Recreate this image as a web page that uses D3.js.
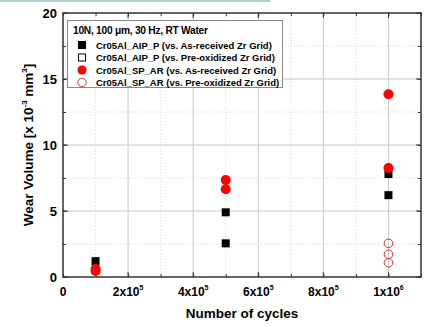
<!DOCTYPE html>
<html><head><meta charset="utf-8">
<script src="https://cdn.jsdelivr.net/npm/d3@7"></script>
<style>body{margin:0;background:#fff;} svg{display:block;font-family:Arial,"Liberation Sans",sans-serif;font-weight:bold;}</style>
</head><body>
<svg id="c" width="427" height="327"></svg>
<script>
const xTicks = [0, 2e5, 4e5, 6e5, 8e5, 1e6];
const xTickLabels = ["0", "2x10|5", "4x10|5", "6x10|5", "8x10|5", "1x10|6"];
const yTicks = [0, 5, 10, 15, 20];
const legendTitle = "10N, 100 \u03BCm, 30 Hz, RT Water";
const seriesNames = [
  "Cr05Al_AIP_P (vs. As-received Zr Grid)",
  "Cr05Al_AIP_P (vs. Pre-oxidized Zr Grid)",
  "Cr05Al_SP_AR (vs. As-received Zr Grid)",
  "Cr05Al_SP_AR (vs. Pre-oxidized Zr Grid)"
];
const aipAsReceived = [[1e5, 1.2], [5e5, 4.9], [5e5, 2.55], [1e6, 7.8], [1e6, 6.2]];
const aipPreOxidized = [];
const spAsReceived = [[1e5, 0.45], [1e5, 0.6], [5e5, 7.35], [5e5, 6.65], [1e6, 13.85], [1e6, 8.25]];
const spPreOxidized = [[1e6, 2.55], [1e6, 1.72], [1e6, 1.08]];

const svg = d3.select("#c");
const L = 63, R = 421, T = 13, B = 277;
const x = d3.scaleLinear().domain([0, 1.1e6]).range([L, R]);
const y = d3.scaleLinear().domain([0, 20]).range([B, T]);

// top decorative band
svg.append("rect").attr("x", 0).attr("y", 0).attr("width", 270).attr("height", 2).attr("fill", "#b7cbd1");

// grid
const g = svg.append("g");
d3.range(1e5, 1.1e6, 2e5).forEach(v => g.append("line").attr("x1", x(v)).attr("x2", x(v)).attr("y1", T).attr("y2", B).attr("stroke", "#ddd").attr("stroke-dasharray", "1,2"));
d3.range(2e5, 1.1e6, 2e5).forEach(v => g.append("line").attr("x1", x(v)).attr("x2", x(v)).attr("y1", T).attr("y2", B).attr("stroke", "#c8c8c8"));
[2.5, 7.5, 12.5, 17.5].forEach(v => g.append("line").attr("x1", L).attr("x2", R).attr("y1", y(v)).attr("y2", y(v)).attr("stroke", "#ddd").attr("stroke-dasharray", "1,2"));
[5, 10, 15].forEach(v => g.append("line").attr("x1", L).attr("x2", R).attr("y1", y(v)).attr("y2", y(v)).attr("stroke", "#c8c8c8"));

// axes ticks (inward)
const xb = d3.axisBottom(x).tickValues(d3.range(0, 1.1e6 + 1, 1e5)).tickSize(-3).tickFormat("");
const xt = d3.axisTop(x).tickValues(d3.range(0, 1.1e6 + 1, 1e5)).tickSize(-3).tickFormat("");
const yl = d3.axisLeft(y).tickValues(d3.range(0, 20.01, 2.5)).tickSize(-3).tickFormat("");
const yr = d3.axisRight(y).tickValues(d3.range(0, 20.01, 2.5)).tickSize(-3).tickFormat("");
[[xb, `translate(0,${B})`], [xt, `translate(0,${T})`], [yl, `translate(${L},0)`], [yr, `translate(${R},0)`]].forEach(([a, t]) => {
  const ga = svg.append("g").attr("transform", t).call(a);
  ga.select(".domain").remove();
  ga.selectAll("line").attr("stroke", "#333");
});
// major longer ticks
xTicks.forEach(v => { if (v > 0) {
  svg.append("line").attr("x1", x(v)).attr("x2", x(v)).attr("y1", B).attr("y2", B - 5).attr("stroke", "#333");
  svg.append("line").attr("x1", x(v)).attr("x2", x(v)).attr("y1", T).attr("y2", T + 5).attr("stroke", "#333"); }});
yTicks.forEach(v => {
  svg.append("line").attr("x1", L).attr("x2", L + 5).attr("y1", y(v)).attr("y2", y(v)).attr("stroke", "#333");
  svg.append("line").attr("x1", R).attr("x2", R - 5).attr("y1", y(v)).attr("y2", y(v)).attr("stroke", "#333");
});
svg.append("rect").attr("x", L).attr("y", T).attr("width", R - L).attr("height", B - T).attr("fill", "none").attr("stroke", "#333").attr("stroke-width", 1.5);

// tick labels
yTicks.forEach(v => svg.append("text").attr("x", L - 6).attr("y", y(v) + 4.5).attr("text-anchor", "end").attr("font-size", 13).text(v));
xTicks.forEach((v, i) => {
  const [base, sup] = xTickLabels[i].split("|");
  const t = svg.append("text").attr("x", x(v)).attr("y", B + 19).attr("text-anchor", "middle").attr("font-size", 12);
  t.append("tspan").text(base);
  if (sup) t.append("tspan").attr("font-size", 7).attr("dy", -6).text(sup);
});
svg.append("text").attr("x", (L + R) / 2).attr("y", 318).attr("text-anchor", "middle").attr("font-size", 13.5).text("Number of cycles");
const yt = svg.append("text").attr("transform", `translate(33,${(T + B) / 2}) rotate(-90)`).attr("text-anchor", "middle").attr("font-size", 13.5);
yt.append("tspan").text("Wear Volume [x 10");
yt.append("tspan").attr("font-size", 8).attr("dy", -6).text("-3");
yt.append("tspan").attr("dy", 6).text(" mm");
yt.append("tspan").attr("font-size", 8).attr("dy", -6).text("3");
yt.append("tspan").attr("dy", 6).text("]");

// data
const sq = 8;
svg.selectAll(".a").data(aipAsReceived).join("rect").attr("x", d => x(d[0]) - sq / 2).attr("y", d => y(d[1]) - sq / 2).attr("width", sq).attr("height", sq).attr("fill", "#000");
svg.selectAll(".b").data(aipPreOxidized).join("rect").attr("x", d => x(d[0]) - sq / 2).attr("y", d => y(d[1]) - sq / 2).attr("width", sq).attr("height", sq).attr("fill", "#fff").attr("stroke", "#000");
svg.selectAll(".c").data(spAsReceived).join("circle").attr("cx", d => x(d[0])).attr("cy", d => y(d[1])).attr("r", 5).attr("fill", "#f00");
svg.selectAll(".d").data(spPreOxidized).join("circle").attr("cx", d => x(d[0])).attr("cy", d => y(d[1])).attr("r", 4.3).attr("fill", "none").attr("stroke", "#e03030").attr("stroke-width", 1);

// legend
const lg = svg.append("g");
lg.append("rect").attr("x", 67.5).attr("y", 20.5).attr("width", 215).attr("height", 67).attr("fill", "#fff").attr("stroke", "#888");
lg.append("text").attr("x", 73).attr("y", 33.5).attr("font-size", 10.2).attr("textLength", 135).text(legendTitle);
seriesNames.forEach((n, i) => {
  const cy = 45 + i * 12.5;
  if (i === 0) lg.append("rect").attr("x", 78).attr("y", cy - 4).attr("width", 8).attr("height", 8).attr("fill", "#000");
  if (i === 1) lg.append("rect").attr("x", 78.5).attr("y", cy - 3.5).attr("width", 7).attr("height", 7).attr("fill", "#fff").attr("stroke", "#000");
  if (i === 2) lg.append("circle").attr("cx", 82).attr("cy", cy).attr("r", 4.5).attr("fill", "#f00");
  if (i === 3) lg.append("circle").attr("cx", 82).attr("cy", cy).attr("r", 4.2).attr("fill", "none").attr("stroke", "#e03030");
  lg.append("text").attr("x", 96).attr("y", cy + 3.8).attr("font-size", 9.5).text(n);
});
</script>
</body></html>
